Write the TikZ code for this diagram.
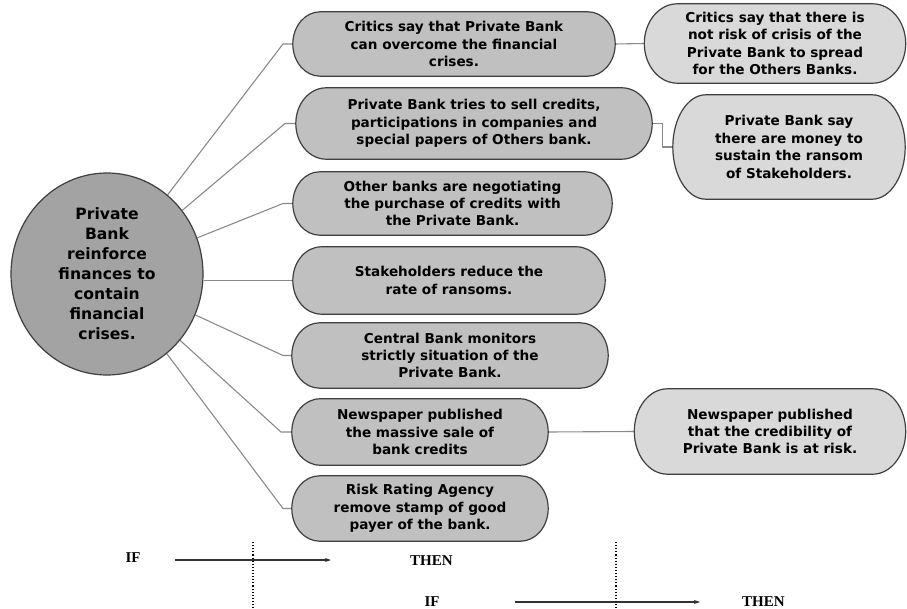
\documentclass[tikz,border=0pt]{standalone}
\usepackage{fontspec}
\setmainfont{DejaVu Sans}
\newfontfamily\ifthenfont{Liberation Serif}
\usetikzlibrary{arrows.meta,shapes.geometric,calc,backgrounds}
\definecolor{ellfill}{HTML}{A3A3A3}
\definecolor{leftfill}{HTML}{C0C0C0}
\definecolor{rightfill}{HTML}{D9D9D9}
\definecolor{edgecol}{HTML}{3F3F3F}
\definecolor{linkcol}{HTML}{8A8A8A}
\tikzset{
  pill/.style={rectangle, draw=none, align=center, inner sep=0pt,
    font=\bfseries\fontsize{13.6}{17.4}\selectfont},
  leftbox/.style={pill},
  rightbox/.style={pill},
  pillline/.style={draw=edgecol, line width=1.2pt},
  link/.style={draw=linkcol, line width=1.1pt},
  ifthen/.style={font=\ifthenfont\bfseries\fontsize{15}{17}\selectfont, inner sep=0pt},
  guide/.style={dotted, line width=1.1pt, black},
  flow/.style={-{Stealth[length=6pt,width=4pt]}, line width=1.1pt, black!80}
}
% rectangle with elliptical ends drawn behind a named node
\newcommand\pillshape[2]{%
  \path[pillline, fill=#2] let \p1=(#1.north west), \p2=(#1.south east),
    \n1={abs(\y1-\y2)/2}, \n2={min(0.85*\n1,33)} in
    (\x1+\n2,\y1) -- (\x2-\n2,\y1)
    arc[start angle=90, end angle=-90, x radius=\n2, y radius=\n1]
    -- (\x1+\n2,\y2)
    arc[start angle=270, end angle=90, x radius=\n2, y radius=\n1]
    -- cycle;}
\begin{document}
\begin{tikzpicture}[x=1pt,y=-1pt]
\useasboundingbox (0,0) rectangle (907,609);

% central node
\node[ellipse, draw=edgecol, line width=1.2pt, fill=ellfill, minimum width=192pt, minimum height=202pt,
  align=center, inner sep=0pt, font=\bfseries\fontsize{15.6}{20}\selectfont] (ell) at (107,274)
  {Private\\Bank\\reinforce\\finances to\\contain\\financial\\crises.};

% left column
\node[leftbox, minimum width=322pt, minimum height=64pt] (b1) at (454,44)
  {Critics say that Private Bank\\can overcome the financial\\crises.};
\node[leftbox, minimum width=356pt, minimum height=71pt] (b2) at (474,123.5)
  {Private Bank tries to sell credits,\\participations in companies and\\special papers of Others bank.};
\node[leftbox, minimum width=319pt, minimum height=63pt] (b3) at (452.5,203.5)
  {Other banks are negotiating\\the purchase of credits with\\the Private Bank.};
\node[leftbox, minimum width=312pt, minimum height=67pt] (b4) at (449,280.5)
  {Stakeholders reduce the\\rate of ransoms.};
\node[leftbox, minimum width=316pt, minimum height=65pt] (b5) at (450,355.5)
  {Central Bank monitors\\strictly situation of the\\Private Bank.};
\node[leftbox, minimum width=256pt, minimum height=66pt] (b6) at (420,432)
  {Newspaper published\\the massive sale of\\bank credits};
\node[leftbox, minimum width=256pt, minimum height=65pt] (b7) at (420,508.5)
  {Risk Rating Agency\\remove stamp of good\\payer of the bank.};

% right column
\node[rightbox, minimum width=261pt, minimum height=79pt] (r1) at (775,43.5)
  {Critics say that there is\\not risk of crisis of the\\Private Bank to spread\\for the Others Banks.};
\node[rightbox, minimum width=232pt, minimum height=104pt] (r2) at (789,147)
  {Private Bank say\\there are money to\\sustain the ransom\\of Stakeholders.};
\node[rightbox, minimum width=271pt, minimum height=85pt] (r6) at (770,431.5)
  {Newspaper published\\that the credibility of\\Private Bank is at risk.};

% elbow points
\coordinate (e1) at (283,44);
\coordinate (e2) at (285,123.5);
\coordinate (e3) at (283,203.5);
\coordinate (e4) at (283,280.5);
\coordinate (e5) at (283,355.5);
\coordinate (e6) at (281,432);
\coordinate (e7) at (283,508.5);

\begin{scope}[on background layer]
\draw[link] (ell) -- (e1) -- (b1.west);
\draw[link] (ell) -- (e2) -- (b2.west);
\draw[link] (ell) -- (e3) -- (b3.west);
\draw[link] (ell.east |- e4) -- (e4) -- (b4.west);
\draw[link] (ell) -- (e5) -- (b5.west);
\draw[link] (ell) -- (e6) -- (b6.west);
\draw[link] (ell) -- (e7) -- (b7.west);
\draw[link] (b1.east) -- (r1.west);
\draw[link] (b2.east) -- ++(10,0) |- (r2.west);
\draw[link] (b6.east) -- (r6.west);
\pillshape{b1}{leftfill}
\pillshape{b2}{leftfill}
\pillshape{b3}{leftfill}
\pillshape{b4}{leftfill}
\pillshape{b5}{leftfill}
\pillshape{b6}{leftfill}
\pillshape{b7}{leftfill}
\pillshape{r1}{rightfill}
\pillshape{r2}{rightfill}
\pillshape{r6}{rightfill}
\end{scope}

% IF / THEN legend
\node[ifthen] (if1) at (133,558) {IF};
\node[ifthen, anchor=west] (then1) at (410,561) {THEN};
\node[ifthen] (if2) at (432,602) {IF};
\node[ifthen, anchor=west] (then2) at (742,602) {THEN};
\coordinate (a1s) at (175,560);
\coordinate (a1e) at (331,560);
\coordinate (a2s) at (515,602);
\coordinate (a2e) at (700,602);
\draw[flow] (a1s) -- (a1e);
\draw[flow] (a2s) -- (a2e);
\coordinate (d1t) at (253,542);
\coordinate (d1b) at (253,609);
\coordinate (d2t) at (616,542);
\coordinate (d2b) at (616,609);
\draw[guide] (d1t) -- (d1b);
\draw[guide] (d2t) -- (d2b);
\end{tikzpicture}
\end{document}
